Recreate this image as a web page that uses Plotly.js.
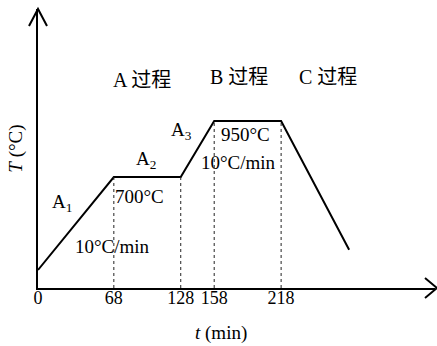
<!DOCTYPE html>
<html>
<head>
<meta charset="utf-8">
<script src="https://cdn.plot.ly/plotly-3.0.1.min.js"></script>
<style>html,body{margin:0;padding:0;background:#fff;}#chart{width:437px;height:346px;}</style>
</head>
<body>
<div id="chart"></div>
<script>
// Time points (min) and schematic temperatures (°C)
var timePoints = [0, 68, 128, 158, 218, 279];
var tempPoints = [285, 700, 700, 950, 950, 375];
var tickVals = [0, 68, 128, 158, 218];
var tickText = ["0", "68", "128", "158", "218"];
// dotted drop lines at these times, up to these temperatures
var dropTimes = [68, 128, 158, 218];
var dropTemps = [700, 700, 950, 950];
// labels
var stageLabels = ["A 过程", "B 过程", "C 过程"];
var stageX = [93, 180.5, 260];
var stageY = [1133, 1146, 1146];
var noteLabels = ["A<sub>1</sub>", "A<sub>2</sub>", "A<sub>3</sub>", "700°C", "10°C/min", "950°C", "10°C/min"];
var noteX = [21.5, 97, 129, 90.6, 66.4, 186.5, 179.4];
var noteY = [584, 776, 905, 615, 388, 888, 767];
var xTitle = "<i>t</i> (min)";
var yTitle = "<i>T</i> (°C)";

var yMin = 204.5, yMax = 1450, xMax = 356;
var FONT = "Liberation Serif, Times New Roman, Noto Sans CJK SC, serif";

var shapes = [];
for (var i = 0; i < dropTimes.length; i++) {
  shapes.push({type: 'line', xref: 'x', yref: 'y', x0: dropTimes[i], x1: dropTimes[i], y0: yMin, y1: dropTemps[i],
    line: {color: '#222', width: 1, dash: 'dot'}});
}
// arrowheads (paper refs so they are not clipped)
shapes.push({type: 'path', xref: 'paper', yref: 'paper', xsizemode: 'pixel', ysizemode: 'pixel', xanchor: 0, yanchor: 1,
  path: 'M-9,-17 L0,0 L9,-17', line: {color: '#000', width: 2}});
shapes.push({type: 'path', xref: 'paper', yref: 'paper', xsizemode: 'pixel', ysizemode: 'pixel', xanchor: 1, yanchor: 0,
  path: 'M-10,10 L2,0 L-10,-10', line: {color: '#000', width: 2}});

var annotations = [];
for (var j = 0; j < stageLabels.length; j++) {
  annotations.push({x: stageX[j], y: stageY[j], xref: 'x', yref: 'y', text: stageLabels[j], showarrow: false,
    font: {family: FONT, size: 20, color: '#000'}});
}
for (var k = 0; k < noteLabels.length; k++) {
  annotations.push({x: noteX[k], y: noteY[k], xref: 'x', yref: 'y', text: noteLabels[k], showarrow: false,
    font: {family: FONT, size: 19, color: '#000'}});
}
// x-axis title placed under the axis, slightly left of centre as in the reference
annotations.push({x: 0.461, y: 0, xref: 'paper', yref: 'paper', yanchor: 'middle', yshift: -45,
  text: xTitle, showarrow: false, font: {family: FONT, size: 19, color: '#000'}});

var trace = {x: timePoints, y: tempPoints, type: 'scatter', mode: 'lines',
  line: {color: '#000', width: 2}, hoverinfo: 'skip'};

var layout = {
  width: 437, height: 346,
  margin: {l: 38, r: 2, t: 9, b: 58},
  paper_bgcolor: '#fff', plot_bgcolor: '#fff',
  showlegend: false,
  font: {family: FONT, color: '#000'},
  xaxis: {range: [0, xMax], tickvals: tickVals, ticktext: tickText, showgrid: false, zeroline: false,
    showline: true, linecolor: '#000', linewidth: 2, ticks: '', ticklabelstandoff: -8,
    tickfont: {family: FONT, size: 18, color: '#000'}},
  yaxis: {range: [yMin, yMax], showticklabels: false, showgrid: false, zeroline: false,
    showline: true, linecolor: '#000', linewidth: 2, ticks: '',
    title: {text: yTitle, font: {family: FONT, size: 19, color: '#000'}, standoff: 8}},
  shapes: shapes,
  annotations: annotations
};
Plotly.newPlot('chart', [trace], layout, {staticPlot: true, displayModeBar: false});
</script>
</body>
</html>
